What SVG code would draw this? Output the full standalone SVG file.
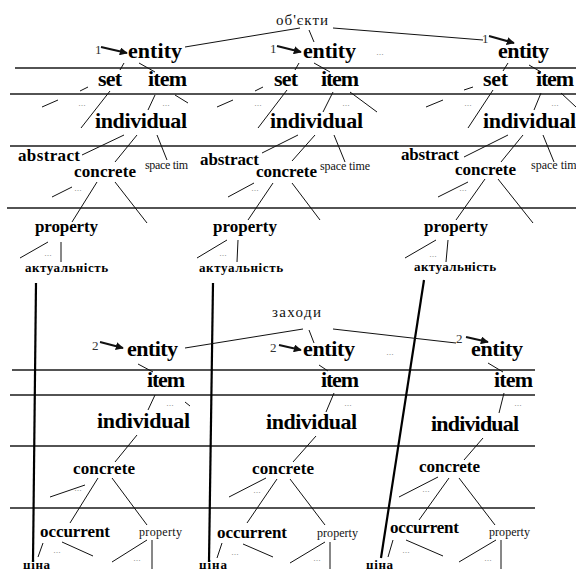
<svg xmlns="http://www.w3.org/2000/svg" width="576" height="569" viewBox="0 0 576 569">
<defs>
<style>
.b{font-family:'Liberation Serif','DejaVu Serif',serif;font-weight:bold;fill:#000}
.b21{font-size:22px}
.b17{font-size:17px}
.b13{font-size:13px}
.r{font-family:'Liberation Serif','DejaVu Serif',serif;fill:#111}
.t15{font-size:15px}
.t12{font-size:12px}
.num{font-family:'Liberation Serif','DejaVu Serif',serif;font-size:13px;fill:#333}
.dots{font-family:'Liberation Sans',sans-serif;font-size:9px;fill:#999;text-anchor:middle}
.hl{stroke:#1a1a1a;stroke-width:1.3;fill:none}
.ln{stroke:#111;stroke-width:1;fill:none}
.vl{stroke:#000;stroke-width:2.2;fill:none}
.ar{stroke:#111;stroke-width:2;fill:none}
</style>
<marker id="ah" viewBox="0 0 10 10" refX="9" refY="5" markerWidth="8" markerHeight="8" markerUnits="userSpaceOnUse" orient="auto">
<path d="M0,0 L10,5 L0,10 z" fill="#111"/>
</marker>
</defs>
<rect width="576" height="569" fill="#fff"/>

<g id="levels">
<line class="hl" x1="15" y1="68" x2="576" y2="68"/>
<line class="hl" x1="10" y1="94" x2="576" y2="94"/>
<line class="hl" x1="10" y1="146" x2="576" y2="146"/>
<line class="hl" x1="7" y1="208" x2="576" y2="208"/>
<line class="hl" x1="12" y1="370" x2="535" y2="370"/>
<line class="hl" x1="10" y1="395" x2="535" y2="395"/>
<line class="hl" x1="10" y1="446" x2="535" y2="446"/>
<line class="hl" x1="10" y1="508" x2="535" y2="508"/>
</g>

<g id="connectors">
<line class="ln" x1="185" y1="47" x2="300" y2="28"/>
<line class="ln" x1="309" y1="30" x2="314" y2="42"/>
<line class="ln" x1="333" y1="28" x2="483" y2="40"/>
<line class="ar" x1="101" y1="47" x2="127" y2="53" marker-end="url(#ah)"/>
<line class="ar" x1="277" y1="46" x2="301" y2="52" marker-end="url(#ah)"/>
<line class="ar" x1="489" y1="36" x2="514" y2="43" marker-end="url(#ah)"/>
<line class="ln" x1="124" y1="63" x2="120" y2="70"/>
<line class="ln" x1="139" y1="63" x2="155" y2="72"/>
<line class="ln" x1="80" y1="91" x2="88" y2="87"/>
<line class="ln" x1="42" y1="107" x2="58" y2="100"/>
<line class="ln" x1="110" y1="91" x2="81" y2="128"/>
<line class="ln" x1="155" y1="95" x2="148" y2="110"/>
<line class="ln" x1="175" y1="95" x2="188" y2="103"/>
<line class="ln" x1="124" y1="135" x2="82" y2="155"/>
<line class="ln" x1="137" y1="135" x2="115" y2="162"/>
<line class="ln" x1="157" y1="135" x2="167" y2="160"/>
<line class="ln" x1="52" y1="197" x2="72" y2="187"/>
<line class="ln" x1="97" y1="182" x2="72" y2="222"/>
<line class="ln" x1="115" y1="182" x2="147" y2="223"/>
<line class="ln" x1="48" y1="242" x2="20" y2="258"/>
<line class="ln" x1="61" y1="242" x2="61" y2="262"/>
<line class="ln" x1="299" y1="63" x2="295" y2="70"/>
<line class="ln" x1="314" y1="63" x2="330" y2="72"/>
<line class="ln" x1="255" y1="91" x2="263" y2="87"/>
<line class="ln" x1="217" y1="107" x2="233" y2="100"/>
<line class="ln" x1="287" y1="90" x2="258" y2="128"/>
<line class="ln" x1="333" y1="92" x2="323" y2="112"/>
<line class="ln" x1="350" y1="92" x2="377" y2="112"/>
<line class="ln" x1="298" y1="135" x2="262" y2="153"/>
<line class="ln" x1="315" y1="135" x2="292" y2="161"/>
<line class="ln" x1="334" y1="135" x2="345" y2="162"/>
<line class="ln" x1="228" y1="197" x2="254" y2="183"/>
<line class="ln" x1="273" y1="183" x2="248" y2="220"/>
<line class="ln" x1="292" y1="183" x2="320" y2="220"/>
<line class="ln" x1="227" y1="240" x2="197" y2="258"/>
<line class="ln" x1="238" y1="240" x2="237" y2="262"/>
<line class="ln" x1="508" y1="63" x2="503" y2="71"/>
<line class="ln" x1="529" y1="65" x2="541" y2="72"/>
<line class="ln" x1="464" y1="90" x2="473" y2="87"/>
<line class="ln" x1="426" y1="107" x2="443" y2="100"/>
<line class="ln" x1="493" y1="90" x2="468" y2="128"/>
<line class="ln" x1="541" y1="93" x2="534" y2="110"/>
<line class="ln" x1="561" y1="93" x2="576" y2="107"/>
<line class="ln" x1="508" y1="135" x2="464" y2="157"/>
<line class="ln" x1="523" y1="135" x2="501" y2="162"/>
<line class="ln" x1="543" y1="135" x2="554" y2="162"/>
<line class="ln" x1="438" y1="197" x2="468" y2="182"/>
<line class="ln" x1="485" y1="179" x2="456" y2="220"/>
<line class="ln" x1="498" y1="179" x2="533" y2="223"/>
<line class="ln" x1="436" y1="240" x2="405" y2="258"/>
<line class="ln" x1="448" y1="240" x2="446" y2="262"/>
<line class="vl" x1="36" y1="283" x2="33" y2="562"/>
<line class="vl" x1="213" y1="283" x2="209" y2="562"/>
<line class="vl" x1="424" y1="280" x2="381" y2="558"/>
<line class="ln" x1="185" y1="348" x2="303" y2="329"/>
<line class="ln" x1="309" y1="330" x2="314" y2="343"/>
<line class="ln" x1="333" y1="329" x2="456" y2="343"/>
<line class="ar" x1="100" y1="342" x2="123" y2="348" marker-end="url(#ah)"/>
<line class="ar" x1="279" y1="345" x2="301" y2="350" marker-end="url(#ah)"/>
<line class="ar" x1="466" y1="337" x2="488" y2="342" marker-end="url(#ah)"/>
<line class="ln" x1="138" y1="364" x2="153" y2="372"/>
<line class="ln" x1="319" y1="365" x2="328" y2="371"/>
<line class="ln" x1="488" y1="363" x2="503" y2="372"/>
<line class="ln" x1="155" y1="395" x2="148" y2="410"/>
<line class="ln" x1="334" y1="393" x2="326" y2="412"/>
<line class="ln" x1="504" y1="393" x2="499" y2="413"/>
<line class="ln" x1="185" y1="402" x2="190" y2="406"/>
<line class="ln" x1="137" y1="435" x2="115" y2="462"/>
<line class="ln" x1="316" y1="436" x2="293" y2="462"/>
<line class="ln" x1="483" y1="438" x2="464" y2="460"/>
<line class="ln" x1="50" y1="497" x2="85" y2="485"/>
<line class="ln" x1="229" y1="497" x2="266" y2="478"/>
<line class="ln" x1="399" y1="497" x2="438" y2="477"/>
<line class="ln" x1="98" y1="478" x2="70" y2="523"/>
<line class="ln" x1="277" y1="479" x2="247" y2="523"/>
<line class="ln" x1="449" y1="478" x2="419" y2="520"/>
<line class="ln" x1="112" y1="478" x2="147" y2="525"/>
<line class="ln" x1="290" y1="479" x2="325" y2="525"/>
<line class="ln" x1="459" y1="478" x2="495" y2="525"/>
<line class="ln" x1="43" y1="543" x2="38" y2="557"/>
<line class="ln" x1="222" y1="543" x2="217" y2="558"/>
<line class="ln" x1="393" y1="540" x2="388" y2="557"/>
<line class="ln" x1="62" y1="542" x2="93" y2="556"/>
<line class="ln" x1="243" y1="544" x2="273" y2="557"/>
<line class="ln" x1="406" y1="540" x2="443" y2="556"/>
<line class="ln" x1="147" y1="540" x2="112" y2="562"/>
<line class="ln" x1="325" y1="542" x2="290" y2="563"/>
<line class="ln" x1="496" y1="540" x2="459" y2="562"/>
<line class="ln" x1="152" y1="540" x2="152" y2="569"/>
<line class="ln" x1="330" y1="542" x2="330" y2="569"/>
<line class="ln" x1="501" y1="540" x2="501" y2="569"/>
</g>

<g id="dots">
<text class="dots" x="380" y="55">...</text>
<text class="dots" x="82" y="106">...</text>
<text class="dots" x="166" y="106">...</text>
<text class="dots" x="258" y="106">...</text>
<text class="dots" x="346" y="106">...</text>
<text class="dots" x="468" y="106">...</text>
<text class="dots" x="555" y="106">...</text>
<text class="dots" x="78" y="191">...</text>
<text class="dots" x="255" y="191">...</text>
<text class="dots" x="463" y="191">...</text>
<text class="dots" x="48" y="256">...</text>
<text class="dots" x="223" y="256">...</text>
<text class="dots" x="433" y="257">...</text>
<text class="dots" x="390" y="355">...</text>
<text class="dots" x="170" y="406">...</text>
<text class="dots" x="348" y="406">...</text>
<text class="dots" x="518" y="406">...</text>
<text class="dots" x="78" y="491">...</text>
<text class="dots" x="257" y="493">...</text>
<text class="dots" x="426" y="492">...</text>
<text class="dots" x="57" y="553">...</text>
<text class="dots" x="235" y="555">...</text>
<text class="dots" x="406" y="553">...</text>
<text class="dots" x="137" y="561">...</text>
<text class="dots" x="317" y="561">...</text>
<text class="dots" x="488" y="561">...</text>
</g>

<g id="root-objects"><text class="r t15" x="276" y="25" textLength="52">об'єкти</text></g>
<g id="num-1a"><text class="num" x="95" y="54">1</text></g>
<g id="num-1b"><text class="num" x="270" y="53">1</text></g>
<g id="num-1c"><text class="num" x="482" y="43">1</text></g>

<g id="entity-1"><text class="b b21" x="128" y="58" textLength="54">entity</text></g>
<g id="entity-2"><text class="b b21" x="303" y="58" textLength="53">entity</text></g>
<g id="entity-3"><text class="b b21" x="498" y="58" textLength="51">entity</text></g>
<g id="set-1"><text class="b b21" x="98" y="86" textLength="24">set</text></g>
<g id="set-2"><text class="b b21" x="274" y="86" textLength="24">set</text></g>
<g id="set-3"><text class="b b21" x="483" y="86" textLength="25">set</text></g>
<g id="item-1"><text class="b b21" x="148" y="86" textLength="39">item</text></g>
<g id="item-2"><text class="b b21" x="321" y="86" textLength="38">item</text></g>
<g id="item-3"><text class="b b21" x="536" y="86" textLength="38">item</text></g>
<g id="individual-1"><text class="b b21" x="95" y="128" textLength="92">individual</text></g>
<g id="individual-2"><text class="b b21" x="270" y="128" textLength="93">individual</text></g>
<g id="individual-3"><text class="b b21" x="483" y="128" textLength="93">individual</text></g>
<g id="abstract-1"><text class="b b17" x="18" y="161" textLength="62">abstract</text></g>
<g id="abstract-2"><text class="b b17" x="200" y="165" textLength="59">abstract</text></g>
<g id="abstract-3"><text class="b b17" x="401" y="160" textLength="58">abstract</text></g>
<g id="concrete-1"><text class="b b17" x="74" y="177" textLength="62">concrete</text></g>
<g id="concrete-2"><text class="b b17" x="256" y="177" textLength="61">concrete</text></g>
<g id="concrete-3"><text class="b b17" x="455" y="175" textLength="61">concrete</text></g>
<g id="spacetime-1"><text class="r t12" x="145" y="169" textLength="43">space tim</text></g>
<g id="spacetime-2"><text class="r t12" x="320" y="170" textLength="50">space time</text></g>
<g id="spacetime-3"><text class="r t12" x="531" y="169">space time</text></g>
<g id="property-1"><text class="b b17" x="35" y="232" textLength="63">property</text></g>
<g id="property-2"><text class="b b17" x="213" y="232" textLength="64">property</text></g>
<g id="property-3"><text class="b b17" x="424" y="232" textLength="64">property</text></g>
<g id="actual-1"><text class="b b13" x="25" y="272" textLength="83">актуальність</text></g>
<g id="actual-2"><text class="b b13" x="199" y="272" textLength="84">актуальність</text></g>
<g id="actual-3"><text class="b b13" x="414" y="271" textLength="82">актуальність</text></g>

<g id="root-measures"><text class="r t15" x="272" y="317" textLength="49">заходи</text></g>
<g id="num-2a"><text class="num" x="92" y="350">2</text></g>
<g id="num-2b"><text class="num" x="270" y="352">2</text></g>
<g id="num-2c"><text class="num" x="456" y="343">2</text></g>
<g id="entity-4"><text class="b b21" x="127" y="356" textLength="51">entity</text></g>
<g id="entity-5"><text class="b b21" x="303" y="356" textLength="52">entity</text></g>
<g id="entity-6"><text class="b b21" x="471" y="356" textLength="52">entity</text></g>
<g id="item-4"><text class="b b21" x="147" y="387" textLength="38">item</text></g>
<g id="item-5"><text class="b b21" x="321" y="387" textLength="38">item</text></g>
<g id="item-6"><text class="b b21" x="494" y="387" textLength="39">item</text></g>
<g id="individual-4"><text class="b b21" x="97" y="428" textLength="93">individual</text></g>
<g id="individual-5"><text class="b b21" x="266" y="429" textLength="91">individual</text></g>
<g id="individual-6"><text class="b b21" x="431" y="431" textLength="88">individual</text></g>
<g id="concrete-4"><text class="b b17" x="73" y="474" textLength="62">concrete</text></g>
<g id="concrete-5"><text class="b b17" x="252" y="474" textLength="62">concrete</text></g>
<g id="concrete-6"><text class="b b17" x="419" y="472" textLength="61">concrete</text></g>
<g id="occurrent-1"><text class="b b17" x="40" y="537" textLength="70">occurrent</text></g>
<g id="occurrent-2"><text class="b b17" x="217" y="538" textLength="70">occurrent</text></g>
<g id="occurrent-3"><text class="b b17" x="390" y="533" textLength="69">occurrent</text></g>
<g id="property-4"><text class="r t12" x="139" y="536" textLength="43">property</text></g>
<g id="property-5"><text class="r t12" x="317" y="537" textLength="41">property</text></g>
<g id="property-6"><text class="r t12" x="489" y="536" textLength="41">property</text></g>
<g id="price-1"><text class="b b13" x="23" y="569" textLength="27">ціна</text></g>
<g id="price-2"><text class="b b13" x="199" y="569" textLength="28">ціна</text></g>
<g id="price-3"><text class="b b13" x="366" y="569" textLength="27">ціна</text></g>
</svg>
